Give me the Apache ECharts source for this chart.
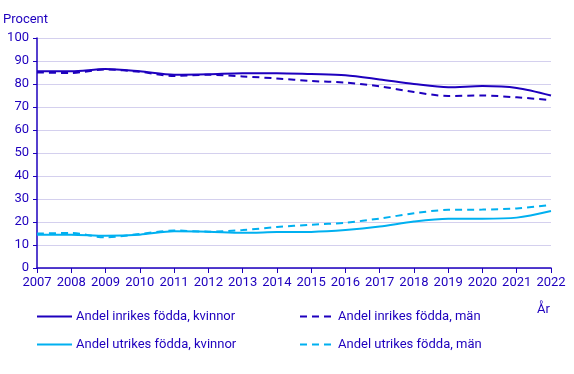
<!DOCTYPE html>
<html><head><meta charset="utf-8">
<script src="https://cdn.jsdelivr.net/npm/echarts@6/dist/echarts.min.js"></script>
<style>html,body{margin:0;padding:0;background:#fff}#c{width:574px;height:374px}</style>
</head><body><div id="c"></div>
<script>
var years = ['2007','2008','2009','2010','2011','2012','2013','2014','2015','2016','2017','2018','2019','2020','2021','2022'];
var inrikesKvinnor = [85.5,85.5,86.5,85.5,84.0,84.2,84.7,84.7,84.3,83.8,82.0,80.0,78.6,79.1,78.3,75.0];
var inrikesMan     = [85.0,84.8,86.3,85.3,83.5,84.0,83.3,82.4,81.3,80.6,79.0,76.5,74.8,75.0,74.2,73.0];
var utrikesKvinnor = [14.5,14.5,14.0,14.5,16.0,15.8,15.3,15.6,15.7,16.5,18.0,20.2,21.4,21.4,21.9,24.8];
var utrikesMan     = [15.0,15.2,13.3,14.8,16.3,15.8,16.5,17.8,18.8,19.7,21.5,23.8,25.3,25.4,25.9,27.4];
var names = ['Andel inrikes födda, kvinnor','Andel inrikes födda, män','Andel utrikes födda, kvinnor','Andel utrikes födda, män'];

var dark = '#1e00be', light = '#00b0f0', txt = '#1e00be';
var font = 'Roboto';
function ser(name, data, color, dashed){
  return {name:name, type:'line', data:data, smooth:0.3, symbol:'none',
    lineStyle:{color:color, width:2, type: dashed ? [7,5] : 'solid'}, itemStyle:{color:color}};
}
function leg(name, left, top, gap){
  return {data:[name], left:left, top:top, padding:0, itemWidth:35, itemHeight:10, itemGap:0,
    itemStyle:{opacity:0},
    textStyle:{color:txt, fontFamily:font, fontSize:13, padding:[0,0,0,gap]}};
}
var chart = echarts.init(document.getElementById('c'), null, {renderer:'canvas'});
chart.setOption({
  animation:false,
  textStyle:{fontFamily:font},
  grid:{left:37, right:23, top:38, bottom:106},
  title:{text:'Procent', left:3, top:13, padding:0, textStyle:{color:txt, fontFamily:font, fontSize:13, fontWeight:'normal'}},
  graphic:[{type:'text', left:537, top:303, style:{text:'År', fill:txt, font:'13px Roboto'}}],
  legend:[leg(names[0],36,310,-1), leg(names[1],299,310,-2), leg(names[2],36,338,-1), leg(names[3],299,338,-2)],
  xAxis:{type:'category', data:years, boundaryGap:false,
    axisLine:{lineStyle:{color:dark, width:1.5}},
    axisTick:{show:true, length:5, lineStyle:{color:dark}},
    axisLabel:{color:txt, fontFamily:font, fontSize:13, margin:8, interval:0}},
  yAxis:{type:'value', min:0, max:100, interval:10,
    axisLine:{show:true, lineStyle:{color:dark, width:1.5}},
    axisTick:{show:true, length:4, lineStyle:{color:dark}},
    splitLine:{lineStyle:{color:'#d4d0ee', width:1}},
    axisLabel:{color:txt, fontFamily:font, fontSize:13, margin:8}},
  series:[ser(names[0],inrikesKvinnor,dark,false), ser(names[1],inrikesMan,dark,true),
          ser(names[2],utrikesKvinnor,light,false), ser(names[3],utrikesMan,light,true)]
});
</script></body></html>
